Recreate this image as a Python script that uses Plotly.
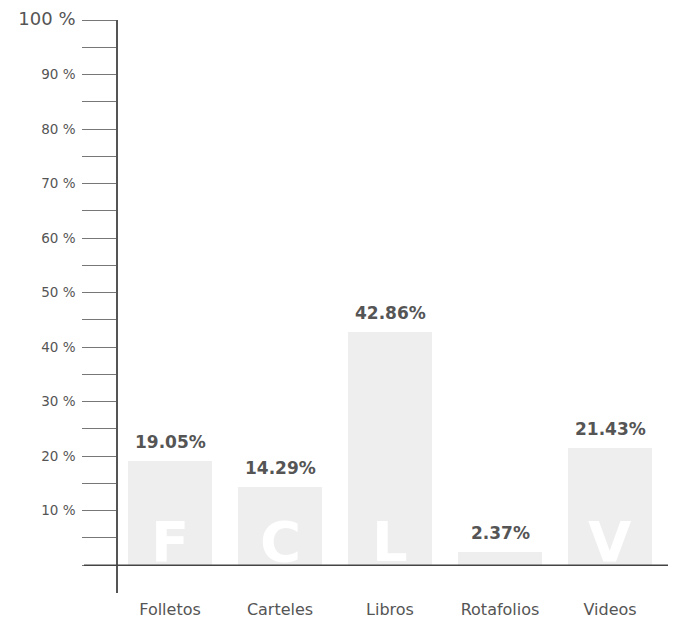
import plotly.graph_objects as go

categories = ["Folletos", "Carteles", "Libros", "Rotafolios", "Videos"]
values = [19.05, 14.29, 42.86, 2.37, 21.43]
initials = ["F", "C", "L", "", "V"]
major_ticks = [0, 10, 20, 30, 40, 50, 60, 70, 80, 90, 100]
tick_labels = ["", "10 %", "20 %", "30 %", "40 %", "50 %", "60 %", "70 %", "80 %", "90 %",
               "<span style='font-size:18px'>100 %</span>"]
minor_ticks = [5, 15, 25, 35, 45, 55, 65, 75, 85, 95]

# page body has an 8px margin; figure sized to fit inside the window
W, H = 662, 613
ml, mr, mt, mb = 110, 2, 12, 28
pw = W - ml - mr

fig = go.Figure()
fig.add_trace(go.Bar(
    x=categories, y=values, width=0.77,
    marker=dict(color="#eeeeee", line=dict(width=0)),
    hoverinfo="skip",
))

# white initials at bar bottoms
for c, ini in zip(categories, initials):
    if ini:
        fig.add_annotation(x=c, y=0, text=ini, showarrow=False, xanchor="center", yanchor="bottom",
                           yshift=-11, font=dict(family="DejaVu Sans", size=56, color="#ffffff", weight="bold"))

# value labels
for c, v in zip(categories, values):
    fig.add_annotation(x=c, y=v, text=f"{v:.2f}%", showarrow=False, xanchor="center", yanchor="bottom",
                       yshift=7, font=dict(family="DejaVu Sans", size=17, color="#555555", weight="bold"))

# baseline extending left to tick length
fig.add_shape(type="line", xref="paper", yref="y", x0=-34 / pw, x1=1, y0=0, y1=0,
              line=dict(color="#444444", width=1.5), layer="above")

fig.update_layout(
    width=W, height=H,
    margin=dict(l=ml, r=mr, t=mt, b=mb),
    plot_bgcolor="white", paper_bgcolor="white",
    showlegend=False,
    bargap=0,
    font=dict(family="DejaVu Sans", color="#555555"),
)
fig.update_xaxes(
    range=[-0.473, 4.527], showline=False, showgrid=False, zeroline=False, ticks="",
    tickfont=dict(family="DejaVu Sans", size=16, color="#555555"),
    ticklabelstandoff=5, automargin=False, ticklabeloverflow="allow",
)
fig.update_yaxes(
    range=[-5.1, 100], showgrid=False, zeroline=False,
    showline=True, linecolor="#555555", linewidth=1.5,
    tickmode="array", tickvals=major_ticks, ticktext=tick_labels,
    ticks="outside", ticklen=34, tickwidth=1, tickcolor="#777777",
    tickfont=dict(family="DejaVu Sans", size=13.5, color="#555555"),
    ticklabelstandoff=4, ticklabeloverflow="allow", automargin=False,
    minor=dict(tickvals=minor_ticks, ticks="outside", ticklen=34, tickwidth=1, tickcolor="#777777"),
)

fig.write_html("out.html")
